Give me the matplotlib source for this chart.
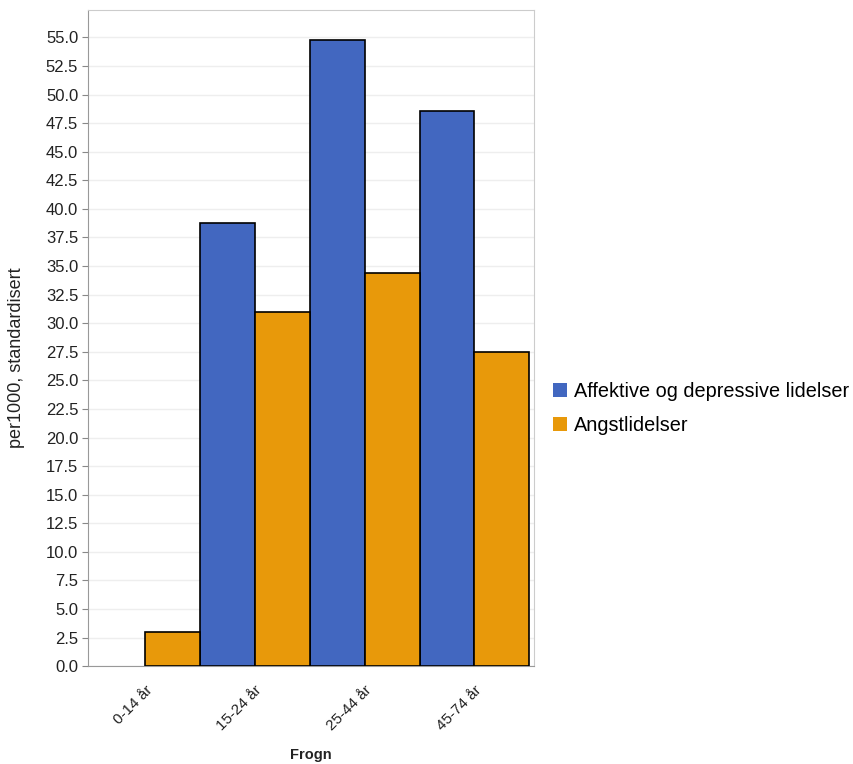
import matplotlib
matplotlib.use("Agg")
import matplotlib.pyplot as plt
import numpy as np
from matplotlib.patches import Patch

plt.rcParams['font.family'] = ['Liberation Sans', 'DejaVu Sans']

categories = ["0-14 år", "15-24 år", "25-44 år", "45-74 år"]
series_names = ["Affektive og depressive lidelser", "Angstlidelser"]
affektive = [0.0, 38.8, 54.8, 48.6]
angst = [3.0, 31.0, 34.4, 27.5]
colors = ["#4267c0", "#e8990a"]

fig = plt.figure(figsize=(8.54, 7.64), dpi=100)
ax = fig.add_axes([0.103, 0.128, 0.522, 0.859])
x = np.arange(len(categories))
w = 0.5
for offset, vals, c in [(-w/2, affektive, colors[0]), (w/2, angst, colors[1])]:
    edges = ["black" if v > 0 else "none" for v in vals]
    ax.bar(x + offset, vals, width=w, color=c, edgecolor=edges, linewidth=1.2, zorder=3)

ax.set_xlim(-0.52, 3.54)
ax.set_ylim(0, 57.4)
yt = np.arange(0, 55.1, 2.5)
ax.set_yticks(yt)
ax.set_yticklabels([f"{v:.1f}" for v in yt], fontsize=12, color="#222222")
ax.yaxis.grid(True, color="#eeeeee", linewidth=1, zorder=0)
ax.set_axisbelow(True)
ax.set_xticks(x)
ax.set_xticklabels(categories, rotation=45, ha="right", rotation_mode="anchor", fontsize=11, color="#222222")
ax.tick_params(axis="y", length=4, color="#888888", pad=3)
ax.tick_params(axis="x", length=0, pad=12)
for s in ["left", "bottom"]:
    ax.spines[s].set_color("#999999")
for s in ["top", "right"]:
    ax.spines[s].set_color("#cccccc")
ax.set_ylabel("per1000, standardisert", fontsize=13, color="#222222")
ax.yaxis.set_label_coords(-0.142, 0.47)

# x-axis title placed in figure coords
ax_bbox = ax.get_position()
fig.text((ax_bbox.x0 + ax_bbox.x1) / 2, 0.012, "Frogn", fontsize=10.5, fontweight="bold",
         color="#222222", ha="center", va="center")

handles = [Patch(facecolor=c, edgecolor="none") for c in colors]
fig.legend(handles, series_names, loc="upper left", bbox_to_anchor=(0.638, 0.51),
           frameon=False, fontsize=14.3, handlelength=0.7, handleheight=0.7,
           handletextpad=0.35, labelspacing=0.72, borderaxespad=0)

fig.savefig("out.png", dpi=100)
